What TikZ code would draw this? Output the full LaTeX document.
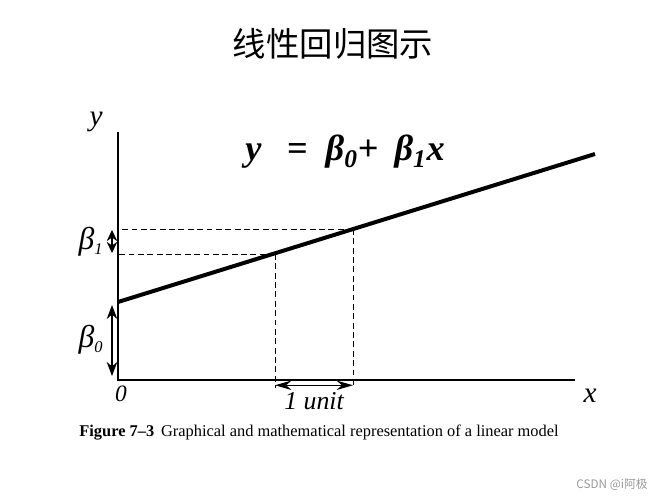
\documentclass[tikz,border=0pt]{standalone}
\usepackage{fontspec}
\setmainfont{Liberation Serif}
\newfontfamily\cjk{Noto Sans CJK SC}
\usepackage{tikz}
\usetikzlibrary{arrows.meta,positioning}
\tikzstyle{axis} = [line width=1pt]
\tikzstyle{fit_line} = [line width=3.4pt]
\tikzstyle{guide} = [dashed, line width=0.8pt, dash pattern=on 5pt off 3pt]
\tikzstyle{arrow_both} = [line width=0.9pt,{Stealth[length=12pt,width=9pt]}-{Stealth[length=12pt,width=9pt]}]
\tikzstyle{arrow_unit} = [line width=0.9pt,{Stealth[length=14pt,width=8pt]}-{Stealth[length=14pt,width=8pt]}]
\tikzstyle{arrow_small} = [line width=0.9pt,{Stealth[length=9.5pt,width=9pt]}-{Stealth[length=9.5pt,width=9pt]}]

\begin{document}
\begin{tikzpicture}[x=0.03cm, y=-0.03cm]
        \useasboundingbox (0,0) rectangle (667,500);
        \coordinate (origin) at (118,380);
        \coordinate (y_top) at (118,132);
        \coordinate (x_end) at (575,380);
        \coordinate (line_start) at (118,302);
        \coordinate (line_end) at (595,154);
        \coordinate (p_left) at (275,254);
        \coordinate (p_right) at (353,229);

        \node (title) at (333,44) {\cjk\fontsize{28.5}{32}\selectfont 线性回归图示};

        % axes
        \draw [axis] (y_top) -- (origin) -- (x_end);
        \node (y_label) at (96,122) {\fontsize{25}{28}\selectfont\itshape y};
        \node (x_label) at (590,396) {\fontsize{25}{28}\selectfont\itshape x};
        \node (zero) at (121,394) {\fontsize{20}{22}\selectfont\itshape 0};

        % regression line
        \draw [fit_line] (line_start) -- (line_end);
        \node (equation) at (345,152) {\fontsize{31}{34}\selectfont\bfseries\itshape y\hspace{0.7em}=\hspace{0.5em}β\textsubscript{0}+\hspace{0.45em}β\textsubscript{1}x};

        % dashed guides
        \draw [guide] (p_right) -- (p_right -| origin);
        \draw [guide] (p_left) -- (p_left -| origin);
        \draw [guide] (p_left) -- ([yshift=-7pt]p_left |- origin) coordinate (unit_left);
        \draw [guide] (p_right) -- ([yshift=-7pt]p_right |- origin) coordinate (unit_right);

        % unit step
        \draw [arrow_unit] ([yshift=-4.5pt]p_left |- origin) -- ([yshift=-4.5pt]p_right |- origin);
        \node (unit_label) at (314,401) {\fontsize{22}{24}\selectfont\itshape 1 unit};

        % slope and intercept
        \draw [arrow_small] (112,230) -- (112,253);
        \node (beta_one) at (91,242) {\fontsize{27}{30}\selectfont\itshape β\textsubscript{\fontsize{14}{15}\selectfont 1}};
        \draw [arrow_both] (112,305) -- (112,376);
        \node (beta_zero) at (91,340) {\fontsize{27}{30}\selectfont\itshape β\textsubscript{\fontsize{14}{15}\selectfont 0}};

        \node (caption) at (319,433) {\fontsize{14}{16}\selectfont\textbf{Figure 7–3}\, Graphical and mathematical representation of a linear model};
        \node (mark) at (612,485) [text=gray!80] {\cjk\fontsize{10}{12}\selectfont CSDN @i阿极};
    \end{tikzpicture}
\end{document}
